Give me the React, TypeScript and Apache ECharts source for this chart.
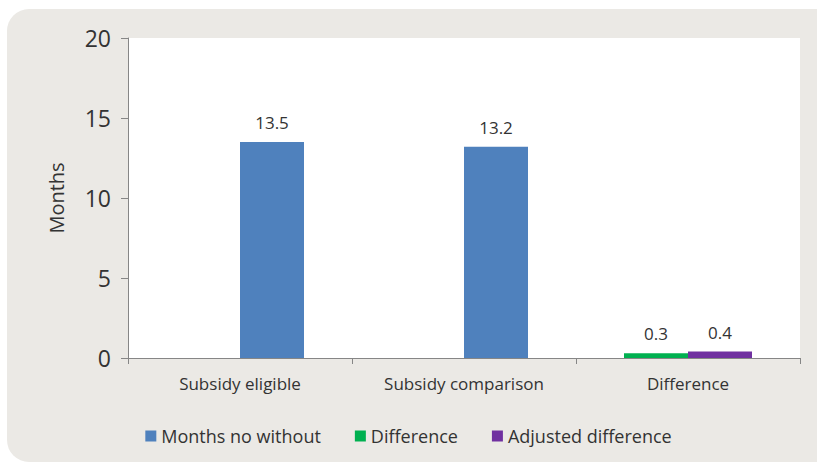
import React, { useEffect, useRef } from "react";
import * as echarts from "echarts";

const categories = ["Subsidy eligible", "Subsidy comparison", "Difference"];
const monthsNoWithout: (number | string)[] = [13.5, 13.2, "-"];
const difference: (number | string)[] = ["-", "-", 0.3];
const adjustedDifference: (number | string)[] = ["-", "-", 0.4];
const legendNames = ["Months no without", "Difference", "Adjusted difference"];

const FONT = "Open Sans";
const TEXT = "#333333";
const AXIS = "#868686";

export default function App() {
  const ref = useRef<HTMLDivElement>(null);
  useEffect(() => {
    document.body.style.margin = "0";
    const chart = echarts.init(ref.current!, undefined, { renderer: "svg" });
    const label = {
      show: true,
      position: "top" as const,
      distance: 11,
      color: TEXT,
      fontFamily: FONT,
      fontSize: 17,
    };
    chart.setOption({
      animation: false,
      backgroundColor: "#ffffff",
      textStyle: { fontFamily: FONT },
      graphic: [
        {
          type: "rect",
          z: -10,
          silent: true,
          shape: { x: 7, y: 9, width: 840, height: 453, r: [22, 0, 0, 22] },
          style: { fill: "#ebe9e5" },
        },
        {
          type: "rect",
          z: -9,
          silent: true,
          shape: { x: 128, y: 38, width: 672, height: 320 },
          style: { fill: "#ffffff" },
        },
      ],
      grid: { left: 128, right: 17, top: 38, bottom: 105, containLabel: false },
      legend: {
        data: legendNames,
        bottom: 13,
        left: "center",
        icon: "rect",
        itemWidth: 11,
        itemHeight: 11,
        itemGap: 34,
        itemTextGap: 7,
        textStyle: { color: TEXT, fontFamily: FONT, fontSize: 18 },
      },
      xAxis: {
        type: "category",
        data: categories,
        axisLine: { lineStyle: { color: AXIS, width: 1 } },
        axisTick: { show: true, length: 6, lineStyle: { color: AXIS } },
        axisLabel: { color: TEXT, fontFamily: FONT, fontSize: 17, margin: 17 },
      },
      yAxis: {
        type: "value",
        min: 0,
        max: 20,
        interval: 5,
        name: "Months",
        nameLocation: "middle",
        nameGap: 62,
        nameTextStyle: { color: TEXT, fontFamily: FONT, fontSize: 20 },
        axisLine: { show: true, lineStyle: { color: AXIS } },
        axisTick: { show: true, length: 7, lineStyle: { color: AXIS } },
        splitLine: { show: false },
        axisLabel: { color: TEXT, fontFamily: FONT, fontSize: 23, margin: 17 },
      },
      series: [
        {
          name: "Difference",
          type: "bar",
          data: difference,
          barWidth: 64,
          barGap: "0%",
          itemStyle: { color: "#00b050" },
          label,
        },
        {
          name: "Months no without",
          type: "bar",
          stack: "r",
          data: monthsNoWithout,
          barWidth: 64,
          barGap: "0%",
          itemStyle: { color: "#4f81bd" },
          label,
        },
        {
          name: "Adjusted difference",
          type: "bar",
          stack: "r",
          data: adjustedDifference,
          barWidth: 64,
          barGap: "0%",
          itemStyle: { color: "#7030a0" },
          label,
        },
      ],
    });
    return () => chart.dispose();
  }, []);
  return <div ref={ref} style={{ width: 817, height: 463 }} />;
}
